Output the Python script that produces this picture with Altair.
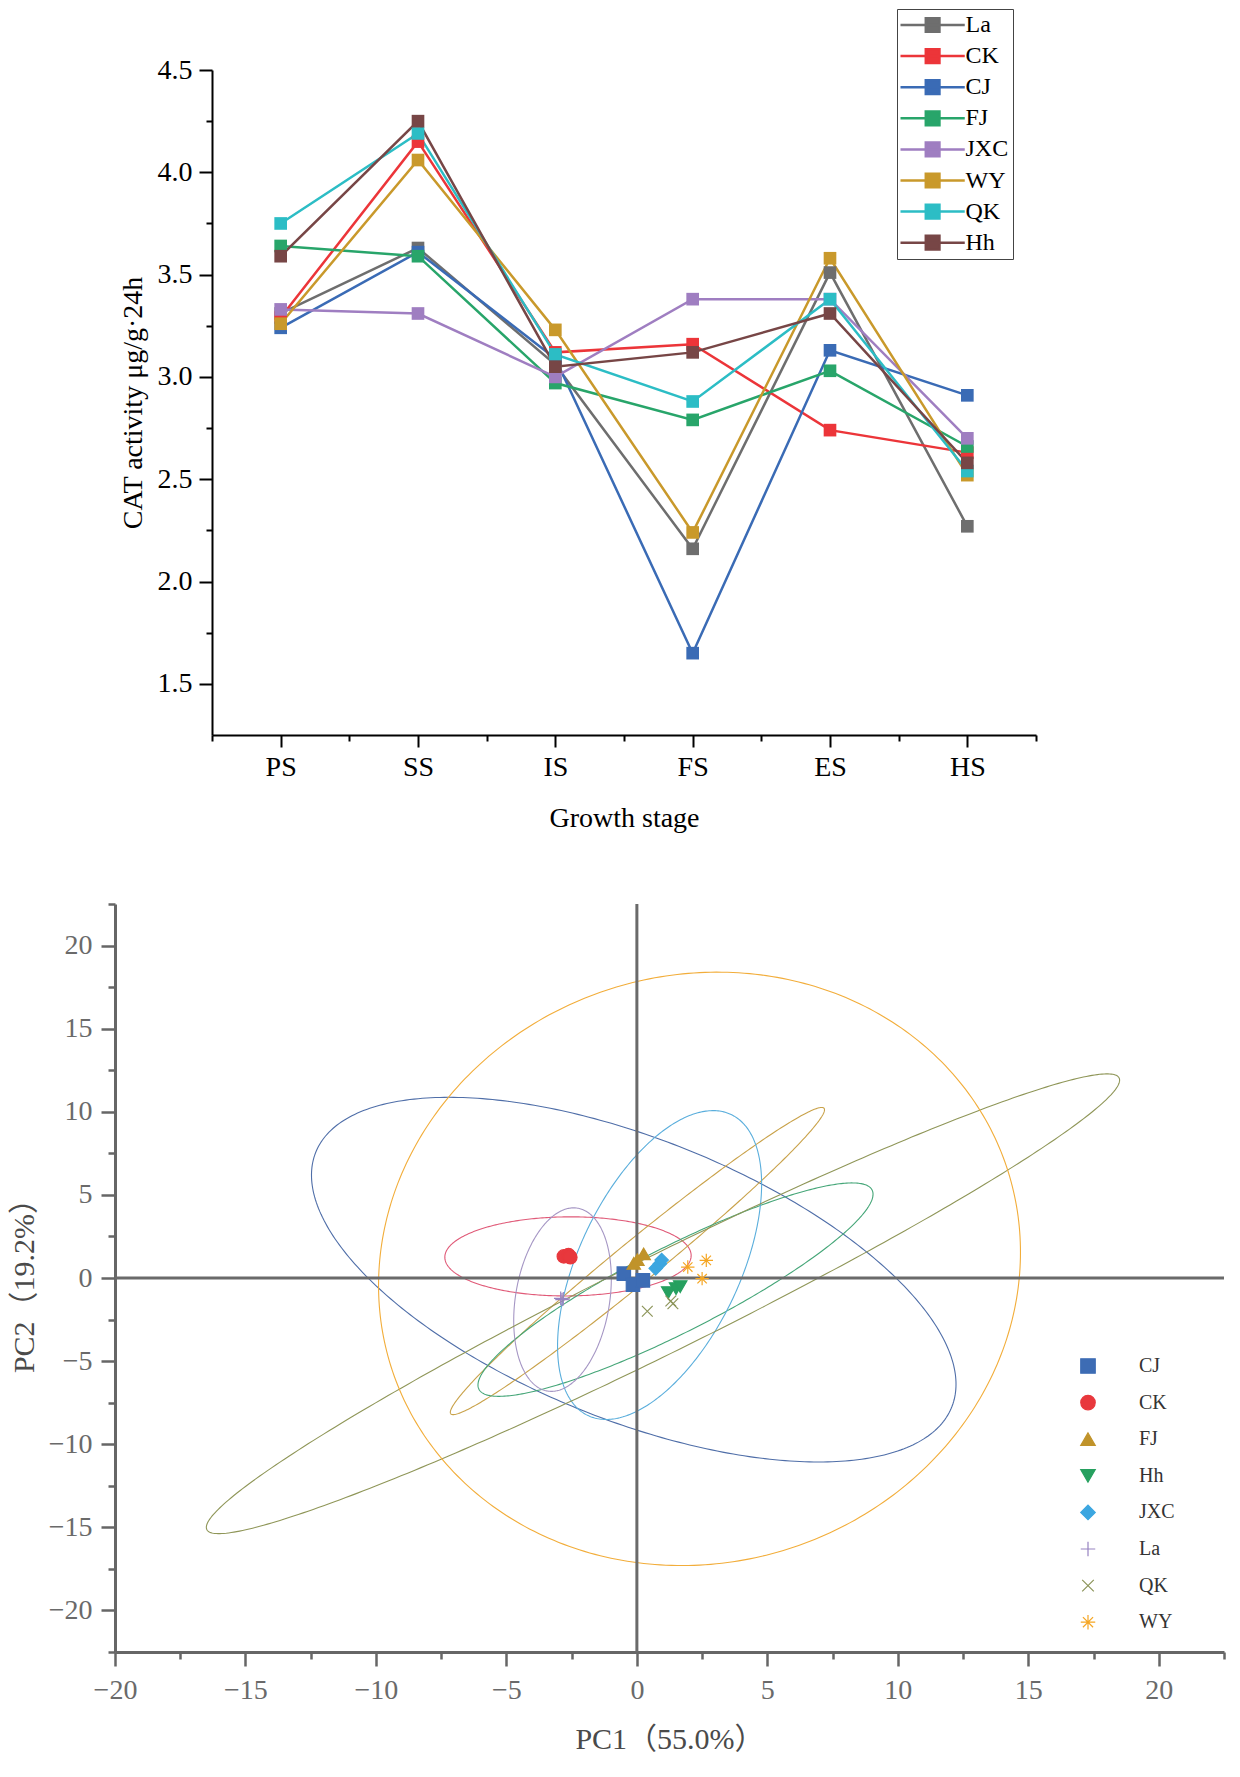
import json
import numpy as np
import pandas as pd
import altair as alt

# ================= Top panel: CAT activity by growth stage =================
stages = ["PS", "SS", "IS", "FS", "ES", "HS"]
series = ["La", "CK", "CJ", "FJ", "JXC", "WY", "QK", "Hh"]
series_colors = ["#6e6e6e", "#ec3539", "#3a6bb5", "#28a56a",
                 "#9f7ec1", "#c9992b", "#2cbdc5", "#774646"]

cat_la = [3.31, 3.63, 3.06, 2.16, 3.51, 2.27]
cat_ck = [3.29, 4.15, 3.12, 3.16, 2.74, 2.63]
cat_cj = [3.24, 3.61, 3.09, 1.65, 3.13, 2.91]
cat_fj = [3.64, 3.59, 2.97, 2.79, 3.03, 2.66]
cat_jxc = [3.33, 3.31, 3.00, 3.38, 3.38, 2.70]
cat_wy = [3.26, 4.06, 3.23, 2.24, 3.58, 2.52]
cat_qk = [3.75, 4.19, 3.11, 2.88, 3.38, 2.54]
cat_hh = [3.59, 4.25, 3.05, 3.12, 3.31, 2.58]

top_y_ticks = [1.5, 2.0, 2.5, 3.0, 3.5, 4.0, 4.5]
top_y_minor = [1.75, 2.25, 2.75, 3.25, 3.75, 4.25]
top_y_domain = [1.25, 4.5]

# ================= Bottom panel: PCA =================
groups = ["CJ", "CK", "FJ", "Hh", "JXC", "La", "QK", "WY"]
point_colors = ["#3d6cb4", "#e8383d", "#c0932a", "#26a05f",
                "#3ca6e0", "#9783c1", "#8c9459", "#f5a623"]
ellipse_colors = ["#4f6ea8", "#e05a78", "#c9a24a", "#45a678",
                  "#5aaedc", "#a596c4", "#8f9658", "#f2ad3a"]
plus_path = "M-1,0H1M0,-1V1"
x_path = "M-0.8,-0.8L0.8,0.8M-0.8,0.8L0.8,-0.8"
star_path = "M-1,0H1M0,-1V1M-0.7,-0.7L0.7,0.7M-0.7,0.7L0.7,-0.7"
group_shapes = ["square", "circle", "triangle-up", "triangle-down",
                "diamond", plus_path, x_path, star_path]

pc1_cj = [-0.50, -0.15, 0.23]
pc2_cj = [0.26, -0.40, -0.14]
pc1_ck = [-2.80, -2.62, -2.55]
pc2_ck = [1.30, 1.38, 1.25]
pc1_fj = [-0.12, 0.26, 0.02]
pc2_fj = [0.88, 1.45, 1.10]
pc1_hh = [1.20, 1.50, 1.66]
pc2_hh = [-0.88, -0.64, -0.52]
pc1_jxc = [0.72, 0.88, 0.95]
pc2_jxc = [0.58, 0.85, 1.08]
pc1_la = [-2.92, -2.87, -2.82]
pc2_la = [-1.22, -1.30, -1.25]
pc1_qk = [1.30, 1.38, 0.40]
pc2_qk = [-1.38, -1.55, -2.00]
pc1_wy = [1.95, 2.66, 2.50]
pc2_wy = [0.66, 1.06, -0.04]

# confidence ellipses: centre, half width in PC1, PC2 offset of the right-most
# point, and half height in PC2
ell_cx = [-0.12, -2.64, 0.02, 1.48, 0.87, -2.85, 1.00, 2.40]
ell_cy = [-0.10, 1.30, 1.02, -0.70, 0.78, -1.30, -1.55, 0.55]
ell_halfwidth = [12.35, 4.72, 7.17, 7.57, 3.91, 1.87, 17.50, 12.30]
ell_rise = [-6.29, 0.05, 9.10, 5.74, 4.87, 1.26, 13.45, 1.00]
ell_halfheight = [10.97, 2.38, 9.24, 6.42, 9.29, 5.52, 13.83, 17.85]

pc_ticks = [-20, -15, -10, -5, 0, 5, 10, 15, 20]
pc1_minor = [-17.5, -12.5, -7.5, -2.5, 2.5, 7.5, 12.5, 17.5, 22.5]
pc2_minor = [-22.5, -17.5, -12.5, -7.5, -2.5, 2.5, 7.5, 12.5, 17.5, 22.5]
pc1_domain = [-20, 22.5]
pc2_domain = [-22.5, 22.5]

# ================= data tables =================
rows = []
for name, vals in zip(series, [cat_la, cat_ck, cat_cj, cat_fj, cat_jxc, cat_wy, cat_qk, cat_hh]):
    for i, v in enumerate(vals):
        rows.append({"series": name, "idx": i, "val": v})
df_top = pd.DataFrame(rows)

prow = []
pcs = [(pc1_cj, pc2_cj), (pc1_ck, pc2_ck), (pc1_fj, pc2_fj), (pc1_hh, pc2_hh),
       (pc1_jxc, pc2_jxc), (pc1_la, pc2_la), (pc1_qk, pc2_qk), (pc1_wy, pc2_wy)]
for g, (xs, ys) in zip(groups, pcs):
    for a, b in zip(xs, ys):
        prow.append({"group": g, "x": a, "y": b})
df_pts = pd.DataFrame(prow)

erow = []
tt = np.linspace(0, 2 * np.pi, 361)
for g, cx, cy, w, r, h in zip(groups, ell_cx, ell_cy, ell_halfwidth, ell_rise, ell_halfheight):
    q = np.sqrt(max(h * h - r * r, 0.01))
    ex = cx + w * np.cos(tt)
    ey = cy + r * np.cos(tt) + q * np.sin(tt)
    for k, (a, b) in enumerate(zip(ex, ey)):
        erow.append({"group": g, "k": k, "x": float(a), "y": float(b)})
df_ell = pd.DataFrame(erow)
df_zero = pd.DataFrame({"z": [0]})

# ================= top chart =================
TOP_W, TOP_H, TOP_SHIFT = 921, 665, 97
TFONT = "Liberation Serif"


def top_axis(**kw):
    base = dict(domainColor="black", domainWidth=2, tickColor="black", tickWidth=2,
                labelFont=TFONT, labelFontSize=28, labelColor="black",
                titleFont=TFONT, titleFontSize=28, titleColor="black",
                titleFontWeight="normal", grid=False, labelFlush=False, labelOverlap=False)
    base.update(kw)
    return alt.Axis(**base)


label_expr = json.dumps(stages) + "[datum.value]"
xs_top = alt.Scale(domain=[-0.5, len(stages) - 0.5], range=[TOP_SHIFT, TOP_W], nice=False, zero=False)
ys_top = alt.Scale(domain=top_y_domain, nice=False, zero=False)

x_top = alt.X("idx:Q", scale=xs_top,
              axis=top_axis(values=list(range(len(stages))), labelExpr=label_expr, tickSize=12,
                            labelPadding=6, title="Growth stage", titlePadding=23, orient="bottom"))
y_top = alt.Y("val:Q", scale=ys_top,
              axis=top_axis(values=top_y_ticks, format=".1f", tickSize=13, labelPadding=7,
                            title="CAT activity μg/g·24h", titlePadding=10, offset=-TOP_SHIFT,
                            orient="left"))

top_legend = alt.Legend(orient="none", legendX=782, legendY=-61, title=None,
                        symbolType="M0,0H8M3.15,-0.85H4.85V0.85H3.15Z", symbolSize=258,
                        symbolStrokeWidth=2.5, symbolOffset=-12.5,
                        labelFont=TFONT, labelFontSize=24, labelColor="black",
                        labelOffset=53, rowPadding=7.1, padding=4, strokeColor="#444444")

top_lines = alt.Chart(df_top).mark_line(strokeWidth=2.5).encode(
    x=x_top, y=y_top,
    stroke=alt.Stroke("series:N", scale=alt.Scale(domain=series, range=series_colors),
                      legend=top_legend),
)
top_pts = alt.Chart(df_top).mark_point(shape="square", filled=True, size=160, opacity=1).encode(
    x=x_top, y=y_top,
    fill=alt.Fill("series:N", scale=alt.Scale(domain=series, range=series_colors),
                  legend=top_legend),
)
top_minor = alt.Chart(df_top).mark_point(opacity=0).encode(
    x=alt.X("idx:Q", scale=xs_top,
            axis=top_axis(values=[i - 0.5 for i in range(len(stages) + 1)], labels=False,
                          domain=False, tickSize=6, title=None, orient="bottom")),
    y=alt.Y("val:Q", scale=ys_top,
            axis=top_axis(values=top_y_minor, labels=False, domain=False, tickSize=6,
                          title=None, offset=-TOP_SHIFT, orient="left")),
)
top = alt.layer(alt.layer(top_lines, top_pts), top_minor).resolve_scale(
    x="independent", y="independent").properties(width=TOP_W, height=TOP_H)

# ================= bottom chart =================
B_W, B_H = 1109, 748
BFONT = "Liberation Serif, Noto Sans CJK SC"
AXC = "#666666"


def b_axis(**kw):
    base = dict(domainColor=AXC, domainWidth=3, tickColor=AXC, tickWidth=2.5,
                labelFont=BFONT, labelFontSize=28, labelColor="#6a6a6a",
                titleFont=BFONT, titleFontSize=30, titleColor="#4a4a4a",
                titleFontWeight="normal", grid=False, labelFlush=False, labelOverlap=False)
    base.update(kw)
    return alt.Axis(**base)


xs_b = alt.Scale(domain=pc1_domain, nice=False, zero=False)
ys_b = alt.Scale(domain=pc2_domain, nice=False, zero=False)
x_b = alt.X("x:Q", scale=xs_b,
            axis=b_axis(values=pc_ticks, tickSize=14, labelPadding=10, title="PC1（55.0%）",
                        titlePadding=20, orient="bottom"))
y_b = alt.Y("y:Q", scale=ys_b,
            axis=b_axis(values=pc_ticks, tickSize=14, labelPadding=9, title="PC2（19.2%）",
                        titlePadding=9, orient="left"))

ellipse_layers = [
    alt.Chart(df_ell[df_ell["group"] == g]).mark_line(strokeWidth=1.1, color=col).encode(
        x=x_b, y=y_b, order="k:Q")
    for g, col in zip(groups, ellipse_colors)
]
vline = alt.Chart(df_zero).mark_rule(color="#6a6a6a", strokeWidth=3).encode(x=alt.datum(0))
hline = alt.Chart(df_zero).mark_rule(color="#6a6a6a", strokeWidth=3).encode(y=alt.datum(0))

b_legend = alt.Legend(orient="none", legendX=963, legendY=452, title=None,
                      symbolSize=210, symbolStrokeWidth=1.2,
                      labelFont=BFONT, labelFontSize=20, labelColor="#333333",
                      labelOffset=41, rowPadding=16.6, padding=0)
pts_b = alt.Chart(df_pts).mark_point(filled=True, size=180, opacity=1, strokeWidth=1.2).encode(
    x=x_b, y=y_b,
    fill=alt.Fill("group:N", scale=alt.Scale(domain=groups, range=point_colors), legend=b_legend),
    stroke=alt.Stroke("group:N", scale=alt.Scale(domain=groups, range=point_colors), legend=b_legend),
    shape=alt.Shape("group:N", scale=alt.Scale(domain=groups, range=group_shapes), legend=b_legend),
)
b_minor = alt.Chart(df_pts).mark_point(opacity=0).encode(
    x=alt.X("x:Q", scale=xs_b,
            axis=b_axis(values=pc1_minor, labels=False, domain=False, tickSize=7,
                        title=None, orient="bottom")),
    y=alt.Y("y:Q", scale=ys_b,
            axis=b_axis(values=pc2_minor, labels=False, domain=False, tickSize=7,
                        title=None, orient="left")),
)
bottom = alt.layer(alt.layer(*ellipse_layers, vline, hline, pts_b), b_minor).resolve_scale(
    x="independent", y="independent").properties(width=B_W, height=B_H)

chart = alt.vconcat(top, bottom, spacing=69).resolve_scale(
    fill="independent", stroke="independent", shape="independent"
).properties(
    padding={"left": 0, "right": 0, "top": 0, "bottom": 0}
).configure_view(stroke="transparent")

chart.save("out.html", embed_options={"renderer": "svg", "actions": False})
